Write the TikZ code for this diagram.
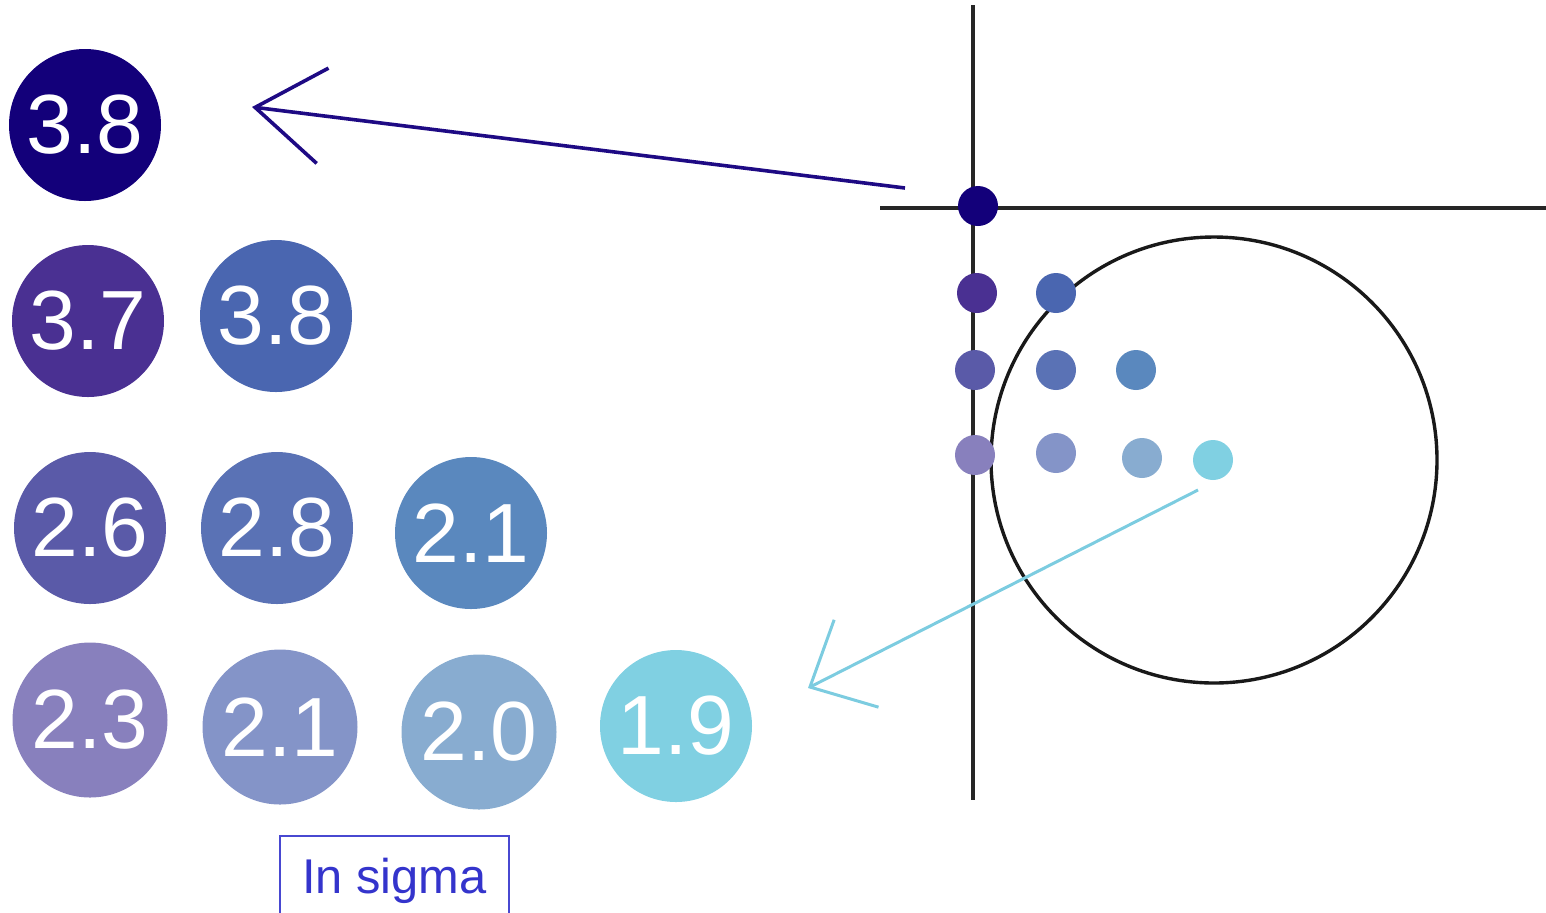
\documentclass[tikz,border=0pt]{standalone}
\usepackage{fontspec}
\setmainfont{Liberation Sans}
\usetikzlibrary{arrows.meta}
\definecolor{c1}{HTML}{13007A}
\definecolor{c2}{HTML}{4A3092}
\definecolor{c3}{HTML}{4A66B0}
\definecolor{c4}{HTML}{5A5AA8}
\definecolor{c5}{HTML}{5A72B5}
\definecolor{c6}{HTML}{5A88BE}
\definecolor{c7}{HTML}{8880BD}
\definecolor{c8}{HTML}{8494C8}
\definecolor{c9}{HTML}{88ACD0}
\definecolor{c10}{HTML}{80D0E2}
\definecolor{navyarrow}{HTML}{1E0A84}
\definecolor{cyanarrow}{HTML}{7CCCE0}
\definecolor{boxblue}{HTML}{3434CC}
\tikzset{
  bigdot/.style={circle, minimum size=76pt, inner sep=0pt, text=white,
    font=\fontsize{42}{44}\selectfont},
  smalldot/.style={circle, minimum size=20pt, inner sep=0pt},
  axisline/.style={line width=1.9pt, black!85},
}
\begin{document}
\begin{tikzpicture}[x=0.5pt,y=-0.5pt]
\path[use as bounding box] (0,0) rectangle (1546,912);
% big circles
\node[bigdot, fill=c1] (b1) at (85,125) {3.8};
\node[bigdot, fill=c2] (b2) at (88,321) {3.7};
\node[bigdot, fill=c3] (b3) at (276,316) {3.8};
\node[bigdot, fill=c4] (b4) at (90,528) {2.6};
\node[bigdot, fill=c5] (b5) at (277,528) {2.8};
\node[bigdot, fill=c6] (b6) at (471,533) {2.1};
\node[bigdot, fill=c7, minimum height=77.5pt] (b7) at (90,720) {2.3};
\node[bigdot, fill=c8, minimum height=77.5pt] (b8) at (280,727) {2.1};
\node[bigdot, fill=c9, minimum height=77.5pt] (b9) at (479,732) {2.0};
\node[bigdot, fill=c10] (b10) at (676,726) {1.9};
% axes
\coordinate (vt) at (973,5);
\coordinate (vb) at (973,800);
\coordinate (hl) at (880,208);
\coordinate (hr) at (1546,208);
\draw[axisline] (vt) -- (vb);
\draw[axisline] (hl) -- (hr);
% big circle
\node[circle, draw=black!90, line width=1.7pt, minimum size=223pt, inner sep=0pt] (ring) at (1214,460) {};
% small dots
\node[smalldot, fill=c1] (s1) at (978,206) {};
\node[smalldot, fill=c2] (s2) at (977,293) {};
\node[smalldot, fill=c3] (s3) at (1056,293) {};
\node[smalldot, fill=c4] (s4) at (975,370) {};
\node[smalldot, fill=c5] (s5) at (1056,370) {};
\node[smalldot, fill=c6] (s6) at (1136,370) {};
\node[smalldot, fill=c7] (s7) at (975,455) {};
\node[smalldot, fill=c8] (s8) at (1056,453) {};
\node[smalldot, fill=c9] (s9) at (1142,458) {};
\node[smalldot, fill=c10] (s10) at (1213,460) {};
% arrows
\coordinate (a1s) at (905,188);
\coordinate (a1e) at (252,107);
\coordinate (a2s) at (1198,490);
\coordinate (a2e) at (808,688);
\draw[navyarrow, line width=1.8pt, -{Straight Barb[length=34pt, width=48pt, line width=1.8pt]}] (a1s) -- (a1e);
\draw[cyanarrow, line width=1.5pt, -{Straight Barb[length=26pt, width=49pt, line width=1.5pt]}] (a2s) -- (a2e);
% label box
\node[draw=boxblue!90, line width=1pt, text=boxblue, anchor=north, minimum width=114.5pt, minimum height=45pt, inner sep=0pt, font=\fontsize{24.4}{26}\selectfont] (lbl) at (394.5,835) {In sigma};
\end{tikzpicture}
\end{document}
